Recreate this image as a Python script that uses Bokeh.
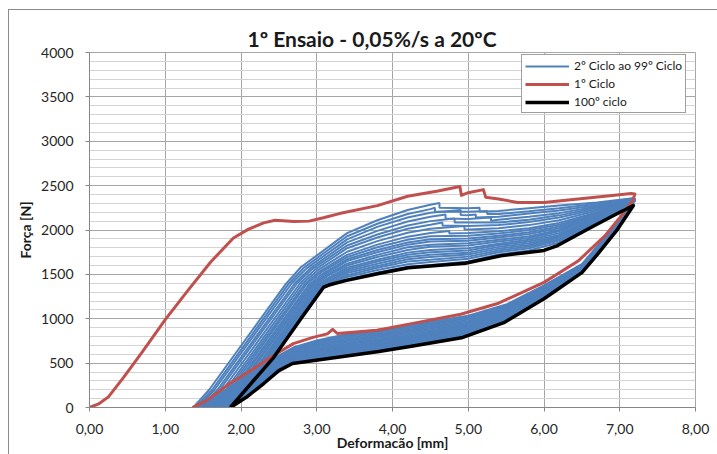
from bokeh.plotting import figure
from bokeh.models import Range1d, SingleIntervalTicker, FixedTicker, Legend, LegendItem
from bokeh.embed import file_html
from bokeh.resources import INLINE

TITLE = "1º Ensaio - 0,05%/s a 20ºC"
X_LABEL = "Deformacão [mm]"
Y_LABEL = "Força [N]"
X_TICKS = [0, 1, 2, 3, 4, 5, 6, 7, 8]
X_TICK_LABELS = ["0,00", "1,00", "2,00", "3,00", "4,00", "5,00", "6,00", "7,00", "8,00"]
Y_TICKS = [0, 500, 1000, 1500, 2000, 2500, 3000, 3500, 4000]
Y_TICK_LABELS = ["0", "500", "1000", "1500", "2000", "2500", "3000", "3500", "4000"]
SERIES_NAMES = ["2º Ciclo ao 99º Ciclo", "1º Ciclo", "100º ciclo"]

# ---- 1st cycle (red) ----
C1_LOAD_X = [0.00, 0.12, 0.25, 0.45, 0.70, 1.00, 1.30, 1.60, 1.90, 2.10, 2.30, 2.45, 2.70, 2.90,
             3.10, 3.30, 3.80, 4.20, 4.60, 4.89, 4.91, 5.00, 5.20, 5.23, 5.40, 5.65, 6.00, 6.45,
             6.90, 7.15, 7.20]
C1_LOAD_F = [0, 40, 120, 340, 630, 990, 1320, 1640, 1910, 2010, 2080, 2110, 2095, 2100,
             2140, 2185, 2275, 2380, 2440, 2490, 2390, 2420, 2455, 2370, 2350, 2310, 2310, 2350,
             2390, 2410, 2405]
C1_UNLOAD_X = [7.20, 7.17, 7.00, 6.80, 6.45, 6.00, 5.40, 4.90, 4.25, 3.80, 3.27, 3.21, 3.14,
               2.95, 2.69, 2.43, 2.10, 1.85, 1.55, 1.36]
C1_UNLOAD_F = [2405, 2330, 2140, 1930, 1650, 1410, 1175, 1050, 945, 870, 835, 880, 830,
               790, 720, 585, 400, 270, 80, 0]

# ---- 100th cycle (black) ----
C100_LOAD_X = [1.86, 2.00, 2.43, 2.80, 3.09, 3.16, 3.38, 3.82, 4.21, 4.96, 5.43, 6.00, 6.18,
               6.60, 7.00, 7.18]
C100_LOAD_F = [0, 140, 563, 1010, 1356, 1380, 1430, 1510, 1575, 1625, 1710, 1770, 1825,
               2020, 2200, 2275]
C100_UNLOAD_X = [7.18, 6.96, 6.70, 6.50, 6.00, 5.48, 4.91, 4.25, 3.82, 3.30, 2.68, 2.50,
                 2.30, 2.07, 1.86]
C100_UNLOAD_F = [2275, 1995, 1720, 1520, 1225, 960, 785, 690, 630, 570, 495, 415,
                 270, 115, 0]

# ---- cycles 2 to 99 (blue), from outermost to innermost ----
BLUE_START_X = [1.37, 1.40, 1.43, 1.46, 1.49, 1.52, 1.55, 1.58, 1.61, 1.63, 1.65, 1.67, 1.69,
                1.71, 1.73, 1.75, 1.77, 1.79, 1.80, 1.82]
BLUE_X_AT_200 = [1.58, 1.62, 1.65, 1.69, 1.72, 1.76, 1.80, 1.83, 1.86, 1.89, 1.91, 1.94, 1.96,
                 1.99, 2.01, 2.03, 2.05, 2.07, 2.08, 2.10]
BLUE_KNEE_X = [2.59, 2.63, 2.67, 2.71, 2.74, 2.78, 2.81, 2.84, 2.86, 2.89, 2.91, 2.93, 2.95,
               2.97, 2.99, 3.01, 3.02, 3.04, 3.04, 3.06]
BLUE_KNEE_F = [1390, 1395, 1400, 1400, 1400, 1400, 1395, 1390, 1385, 1380, 1375, 1370, 1365,
               1360, 1355, 1350, 1345, 1340, 1338, 1335]
BLUE_BEND_X = [2.79, 2.83, 2.87, 2.91, 2.94, 2.98, 3.01, 3.04, 3.06, 3.09, 3.11, 3.13, 3.15,
               3.17, 3.19, 3.21, 3.22, 3.24, 3.24, 3.26]
BLUE_BEND_F = [1580, 1575, 1570, 1565, 1560, 1555, 1545, 1535, 1525, 1515, 1505, 1495, 1485,
               1470, 1460, 1450, 1440, 1430, 1420, 1410]
BLUE_UP_X = [3.4, 3.8, 4.2, 4.5, 5.0, 5.4, 5.8, 6.2, 6.7, 7.2]
BLUE_F_AT_3_4 = [1965, 1930, 1895, 1860, 1825, 1795, 1755, 1720, 1695, 1670, 1650, 1620, 1600, 1575, 1555, 1535, 1515, 1490, 1470, 1445]
BLUE_F_AT_3_8 = [2110, 2070, 2035, 1990, 1950, 1915, 1875, 1835, 1805, 1775, 1750, 1720, 1695, 1665, 1645, 1620, 1595, 1575, 1550, 1520]
BLUE_F_AT_4_2 = [2225, 2180, 2140, 2095, 2050, 2015, 1970, 1925, 1890, 1860, 1835, 1805, 1775, 1745, 1720, 1695, 1670, 1645, 1615, 1585]
BLUE_F_AT_4_5 = [2285, 2235, 2195, 2150, 2100, 2060, 2015, 1965, 1930, 1895, 1870, 1835, 1810, 1775, 1750, 1720, 1695, 1665, 1640, 1605]
BLUE_F_AT_5_0 = [2245, 2205, 2165, 2125, 2085, 2045, 2005, 1965, 1935, 1905, 1880, 1850, 1825, 1795, 1770, 1745, 1725, 1700, 1675, 1645]
BLUE_F_AT_5_4 = [2215, 2180, 2150, 2115, 2085, 2055, 2020, 1985, 1960, 1935, 1915, 1890, 1870, 1845, 1830, 1810, 1790, 1770, 1750, 1725]
BLUE_F_AT_5_8 = [2245, 2210, 2185, 2150, 2115, 2090, 2055, 2020, 2000, 1975, 1955, 1930, 1910, 1890, 1870, 1850, 1830, 1815, 1795, 1770]
BLUE_F_AT_6_2 = [2275, 2245, 2220, 2190, 2165, 2140, 2110, 2080, 2060, 2040, 2020, 2000, 1985, 1965, 1945, 1930, 1915, 1895, 1880, 1860]
BLUE_F_AT_6_7 = [2310, 2295, 2280, 2265, 2250, 2235, 2220, 2200, 2190, 2180, 2170, 2160, 2150, 2135, 2130, 2120, 2110, 2100, 2090, 2080]
BLUE_F_AT_7_2 = [2360, 2358, 2356, 2354, 2352, 2350, 2348, 2346, 2344, 2343, 2342, 2340, 2339, 2338, 2337, 2336, 2335, 2333, 2332, 2330]
BLUE_STEP1_X = [4.62, 4.56, 4.90, 4.70, 4.82, 4.66, 4.95, 4.75]
BLUE_STEP1_HI = [2305, 2250, 2225, 2175, 2130, 2085, 2045, 1990]
BLUE_STEP1_LO = [2250, 2205, 2170, 2130, 2085, 2050, 2005, 1960]
BLUE_STEP2_X = [5.15, 5.25, 5.10, 5.30]
BLUE_STEP2_HI = [2250, 2215, 2175, 2140]
BLUE_STEP2_LO = [2205, 2180, 2140, 2105]
BLUE_DN_X = [6.9, 6.5, 6.0, 5.5, 5.0, 4.5, 4.0, 3.5, 3.0, 2.7, 2.4]
BLUE_UF_AT_6_9 = [2010, 2006, 2002, 1998, 1994, 1990, 1986, 1982, 1979, 1976, 1973, 1970, 1968, 1965, 1963, 1960, 1958, 1955, 1953, 1950]
BLUE_UF_AT_6_5 = [1615, 1610, 1605, 1600, 1595, 1590, 1585, 1580, 1576, 1572, 1569, 1565, 1562, 1559, 1556, 1553, 1550, 1547, 1544, 1540]
BLUE_UF_AT_6_0 = [1375, 1366, 1358, 1349, 1340, 1332, 1323, 1314, 1307, 1301, 1296, 1289, 1284, 1277, 1272, 1267, 1262, 1257, 1251, 1245]
BLUE_UF_AT_5_5 = [1160, 1148, 1137, 1125, 1113, 1102, 1090, 1078, 1069, 1060, 1053, 1044, 1037, 1029, 1022, 1015, 1008, 1001, 994, 985]
BLUE_UF_AT_5_0 = [1035, 1020, 1006, 991, 976, 962, 947, 932, 921, 910, 901, 890, 881, 870, 861, 852, 844, 835, 826, 815]
BLUE_UF_AT_4_5 = [965, 949, 935, 919, 903, 889, 873, 857, 845, 834, 825, 813, 804, 792, 783, 774, 765, 756, 746, 735]
BLUE_UF_AT_4_0 = [895, 879, 865, 849, 833, 819, 803, 787, 775, 764, 755, 743, 734, 722, 713, 704, 695, 686, 676, 665]
BLUE_UF_AT_3_5 = [845, 828, 814, 797, 780, 766, 749, 732, 720, 708, 699, 687, 677, 665, 655, 646, 636, 627, 617, 605]
BLUE_UF_AT_3_0 = [755, 740, 728, 713, 698, 686, 671, 656, 646, 635, 627, 616, 608, 597, 589, 581, 572, 564, 555, 545]
BLUE_UF_AT_2_7 = [680, 668, 657, 645, 633, 622, 610, 598, 589, 580, 573, 564, 557, 549, 542, 535, 528, 521, 514, 505]
BLUE_UF_AT_2_4 = [540, 528, 518, 506, 494, 484, 472, 460, 452, 443, 436, 428, 421, 412, 406, 399, 392, 385, 378, 370]
BLUE_UNLOAD_X_AT_200 = [1.80, 1.83, 1.85, 1.87, 1.90, 1.92, 1.94, 1.97, 1.99, 2.01, 2.02, 2.04, 2.05, 2.07, 2.08, 2.10, 2.11, 2.13, 2.14, 2.16]
BLUE_END_X = [1.40, 1.43, 1.46, 1.49, 1.52, 1.55, 1.58, 1.61, 1.63, 1.65, 1.67, 1.69, 1.71, 1.73, 1.75, 1.77, 1.79, 1.80, 1.82, 1.86]

UP_COLS = [BLUE_F_AT_3_4, BLUE_F_AT_3_8, BLUE_F_AT_4_2, BLUE_F_AT_4_5, BLUE_F_AT_5_0,
           BLUE_F_AT_5_4, BLUE_F_AT_5_8, BLUE_F_AT_6_2, BLUE_F_AT_6_7, BLUE_F_AT_7_2]
DN_COLS = [BLUE_UF_AT_6_9, BLUE_UF_AT_6_5, BLUE_UF_AT_6_0, BLUE_UF_AT_5_5, BLUE_UF_AT_5_0,
           BLUE_UF_AT_4_5, BLUE_UF_AT_4_0, BLUE_UF_AT_3_5, BLUE_UF_AT_3_0, BLUE_UF_AT_2_7,
           BLUE_UF_AT_2_4]

blue_xs, blue_ys = [], []
for i in range(len(BLUE_START_X)):
    pts = [(BLUE_START_X[i], 0), (BLUE_X_AT_200[i], 200), (BLUE_KNEE_X[i], BLUE_KNEE_F[i]),
           (BLUE_BEND_X[i], BLUE_BEND_F[i])]
    upper = [(x, col[i]) for x, col in zip(BLUE_UP_X, UP_COLS)]
    if i < len(BLUE_STEP1_X):
        upper += [(BLUE_STEP1_X[i], BLUE_STEP1_HI[i]), (BLUE_STEP1_X[i] + 1e-6, BLUE_STEP1_LO[i])]
    if i < len(BLUE_STEP2_X):
        upper += [(BLUE_STEP2_X[i], BLUE_STEP2_HI[i]), (BLUE_STEP2_X[i] + 1e-6, BLUE_STEP2_LO[i])]
    upper.sort(key=lambda t: t[0])
    pts += upper
    pts += [(x, col[i]) for x, col in zip(BLUE_DN_X, DN_COLS)]
    pts += [(BLUE_UNLOAD_X_AT_200[i], 200), (BLUE_END_X[i], 0)]
    blue_xs.append([t[0] for t in pts])
    blue_ys.append([t[1] for t in pts])

FONT = "Lato"

p = figure(width=717, height=454, x_range=Range1d(0, 8), y_range=Range1d(0, 4000),
           output_backend="svg", toolbar_location=None,
           min_border_left=89, min_border_right=22, min_border_top=52, min_border_bottom=47)
p.border_fill_color = None
p.background_fill_color = "white"
p.outline_line_color = "#a6a6a6"
p.styles = {"box-shadow": "inset 8px 9px 0 0 white, inset 9px 10px 0 0 #8c8c8c"}

p.title.text = TITLE
p.title.text_font = FONT
p.title.text_font_size = "21px"
p.title.text_font_style = "bold"
p.title.text_color = "#1a1a1a"
p.title.align = "left"
p.title.offset = 158
p.title.standoff = 3

# axes
p.xaxis.ticker = FixedTicker(ticks=X_TICKS)
p.xaxis.major_label_overrides = {t: l for t, l in zip(X_TICKS, X_TICK_LABELS)}
p.yaxis.ticker = SingleIntervalTicker(interval=500, num_minor_ticks=5)
p.yaxis.major_label_overrides = {t: l for t, l in zip(Y_TICKS, Y_TICK_LABELS)}
p.xaxis.axis_label = X_LABEL
p.yaxis.axis_label = Y_LABEL
for ax in (p.xaxis, p.yaxis):
    ax.axis_line_color = "#868686"
    ax.major_tick_line_color = "#868686"
    ax.major_tick_out = 4
    ax.major_tick_in = 0
    ax.minor_tick_out = 0
    ax.minor_tick_in = 0
    ax.major_label_text_font = FONT
    ax.major_label_text_font_size = "14px"
    ax.major_label_text_color = "#262626"
    ax.axis_label_text_font = FONT
    ax.axis_label_text_font_size = "14px"
    ax.axis_label_text_font_style = "bold"
    ax.axis_label_text_color = "#1a1a1a"
p.xaxis.major_label_standoff = 12
p.xaxis.axis_label_standoff = -3
p.yaxis.major_label_standoff = 12
p.yaxis.axis_label_standoff = 4

p.xgrid.grid_line_color = "#a6a6a6"
p.ygrid.grid_line_color = "#a6a6a6"
p.ygrid.minor_grid_line_color = "#d4d4d4"

rb = p.multi_line(blue_xs, blue_ys, line_color="#4F81BD", line_width=2.0)
red_x = C1_LOAD_X + C1_UNLOAD_X[1:]
red_y = C1_LOAD_F + C1_UNLOAD_F[1:]
rr = p.line(red_x, red_y, line_color="#C0504D", line_width=3, line_join="round")
blk_x = C100_LOAD_X + C100_UNLOAD_X[1:]
blk_y = C100_LOAD_F + C100_UNLOAD_F[1:]
rk = p.line(blk_x, blk_y, line_color="black", line_width=3.5, line_join="round")

legend = Legend(items=[LegendItem(label=SERIES_NAMES[0], renderers=[rb]),
                       LegendItem(label=SERIES_NAMES[1], renderers=[rr]),
                       LegendItem(label=SERIES_NAMES[2], renderers=[rk])],
                location=(432, 294))
legend.label_text_font = FONT
legend.label_text_font_size = "12px"
legend.label_text_color = "#1a1a1a"
legend.glyph_width = 44
legend.glyph_height = 12
legend.label_height = 12
legend.spacing = 3
legend.padding = 3
legend.margin = 0
legend.label_standoff = 5
legend.border_line_color = "#404040"
legend.background_fill_color = "white"
legend.background_fill_alpha = 1
p.add_layout(legend)

open("out.html", "w").write(file_html(p, INLINE))
